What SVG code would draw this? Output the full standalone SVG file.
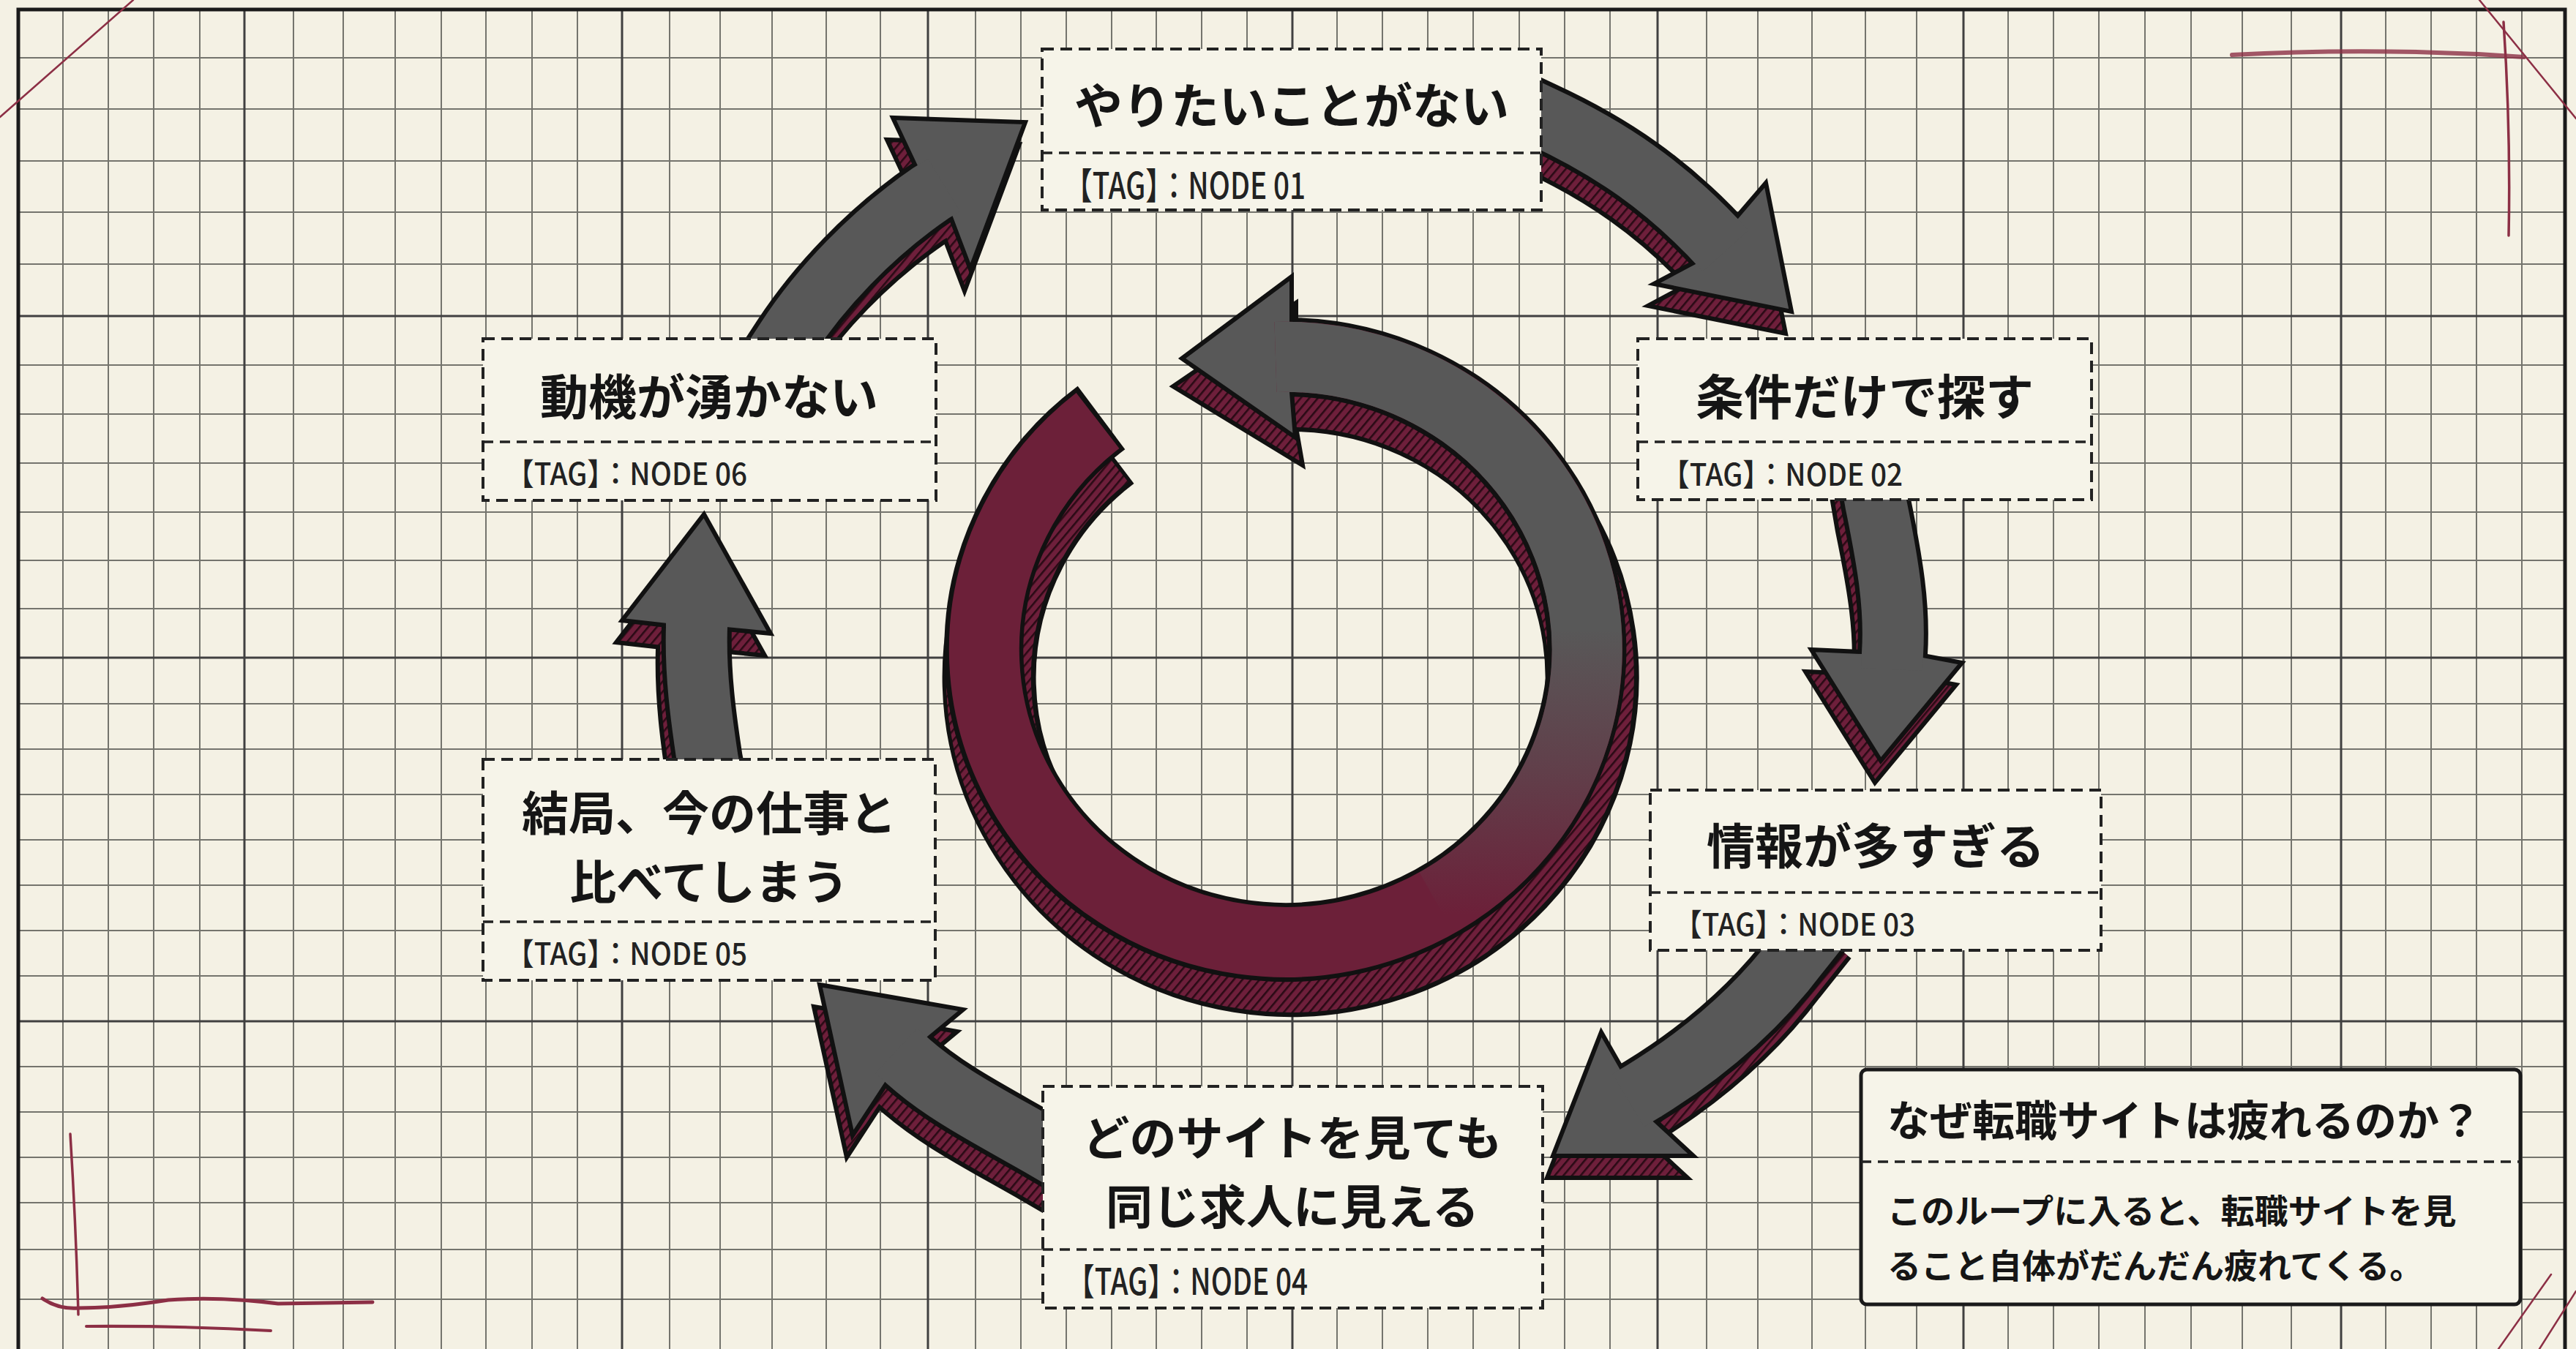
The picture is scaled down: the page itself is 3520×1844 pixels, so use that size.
<svg xmlns="http://www.w3.org/2000/svg" width="3520" height="1844" viewBox="0 0 3520 1844">
<defs>
<pattern id="hatch" patternUnits="userSpaceOnUse" width="9" height="9" patternTransform="rotate(40)">
<rect width="9" height="9" fill="#6e1f3b"/>
<rect width="2.6" height="9" fill="#2a0a15"/>
</pattern>
<linearGradient id="greyFade" gradientUnits="userSpaceOnUse" x1="0" y1="860" x2="0" y2="1250">
<stop offset="0" stop-color="#585858" stop-opacity="1"/>
<stop offset="0.5" stop-color="#585858" stop-opacity="0.55"/>
<stop offset="1" stop-color="#585858" stop-opacity="0"/>
</linearGradient>
<style>
.paper{fill:#f4f1e4}
.gmin{fill:none;stroke:#74746d;stroke-width:2}
.gmaj{fill:none;stroke:#404040;stroke-width:3}
.frame{fill:none;stroke:#1a1a1a;stroke-width:5}
.box{fill:#f6f4e9;stroke:#222;stroke-width:4;stroke-dasharray:16 9}
.div{stroke:#222;stroke-width:3.5;stroke-dasharray:14 9}
.title{font-family:"Noto Sans CJK JP","Noto Sans",sans-serif;font-weight:700;font-size:66px;fill:#151515;text-anchor:middle;dominant-baseline:central}
.title2{font-size:64px}
.tag{font-family:"Noto Sans CJK JP","Noto Sans",sans-serif;font-weight:500;fill:#222;dominant-baseline:central}
.tagN{font-size:50px}
.tagW{font-size:42px}
.ibox{fill:#f6f4e9;stroke:#1a1a1a;stroke-width:5}
.ititle{font-family:"Noto Sans CJK JP","Noto Sans",sans-serif;font-weight:700;font-size:58px;fill:#151515;dominant-baseline:central}
.ibody{font-family:"Noto Sans CJK JP","Noto Sans",sans-serif;font-weight:700;font-size:46px;fill:#151515;dominant-baseline:central}
.so{fill:none;stroke:#111;stroke-width:96}
.si{fill:none;stroke:url(#hatch);stroke-width:84}
.sh{fill:url(#hatch);stroke:#111;stroke-width:6;stroke-linejoin:miter}
.mo{fill:none;stroke:#111;stroke-width:96}
.mi{fill:none;stroke:#585858;stroke-width:84}
.mh{fill:#585858;stroke:#111;stroke-width:6;stroke-linejoin:miter}
.red{fill:none;stroke:#8c2f45;stroke-linecap:round}
</style>
</defs>

<g id="background">
<rect class="paper" x="0" y="0" width="3520" height="1844"/>
<path class="gmin" d="M86 13V1844M148 13V1844M210 13V1844M273 13V1844M401 13V1844M469 13V1844M540 13V1844M603 13V1844M664 13V1844M727 13V1844M789 13V1844M915 13V1844M984 13V1844M1055 13V1844M1129 13V1844M1203 13V1844M1333 13V1844M1395 13V1844M1457 13V1844M1519 13V1844M1580 13V1844M1642 13V1844M1704 13V1844M1827 13V1844M1889 13V1844M1951 13V1844M2013 13V1844M2076 13V1844M2138 13V1844M2200 13V1844M2332 13V1844M2402 13V1844M2476 13V1844M2549 13V1844M2619 13V1844M2744 13V1844M2806 13V1844M2868 13V1844M2931 13V1844M2994 13V1844M3064 13V1844M3131 13V1844M3260 13V1844M3322 13V1844M3384 13V1844M3446 13V1844"/>
<path class="gmin" d="M25 79H3505M25 149H3505M25 220H3505M25 290H3505M25 361H3505M25 499H3505M25 566H3505M25 633H3505M25 700H3505M25 766H3505M25 832H3505M25 962H3505M25 1024H3505M25 1086H3505M25 1148H3505M25 1210H3505M25 1272H3505M25 1334H3505M25 1458H3505M25 1520H3505M25 1582H3505M25 1644H3505M25 1708H3505M25 1776H3505"/>
<path class="gmaj" d="M334 13V1844M850 13V1844M1268 13V1844M1766 13V1844M2265 13V1844M2683 13V1844M3199 13V1844M25 432H3505M25 899H3505M25 1396H3505"/>
<path class="frame" d="M25 1844V13H3505V1844"/>
</g>

<g id="marks">
<path class="red" d="M0 160 L182 0" stroke-width="2.5"/>
<path class="red" d="M3388 0 L3520 162" stroke-width="2.5"/>
<path class="red" d="M3050 75 Q3250 64 3449 78" stroke-width="6" opacity="0.8"/>
<path class="red" d="M3421 30 Q3431 180 3428 322" stroke-width="3.5"/>
<path class="red" d="M96 1550 Q104 1680 107 1797" stroke-width="3.5"/>
<path class="red" d="M58 1775 Q80 1790 107 1788 Q160 1788 230 1777 Q300 1772 380 1782 L509 1780" stroke-width="5"/>
<path class="red" d="M118 1813 Q250 1812 370 1819" stroke-width="4"/>
<path class="red" d="M3486 1742 L3414 1844" stroke-width="2.5"/>
<path class="red" d="M3520 1765 L3470 1844" stroke-width="2.5"/>
</g>

<g id="cycle-center">
<g id="ring-shadow">
<path d="M1511 610 A412 400 0 1 0 1763 526" fill="none" stroke="#111" stroke-width="128"/>
<polygon points="1771,468 1771,414 1603,528 1780,636 1771,584" class="sh"/>
<path d="M1506 613 A412 400 0 1 0 1749 526" fill="none" stroke="url(#hatch)" stroke-width="116"/>
</g>
<g id="ring-main">
<path d="M1505 571 A412 400 0 1 0 1757 488" fill="none" stroke="#111" stroke-width="108"/>
<polygon points="1765,440 1765,378 1615,490 1770,598 1765,536" class="mh"/>
<path d="M1500 575 A412 400 0 1 0 1743 488" fill="none" stroke="#6c2039" stroke-width="96"/>
<path d="M1963 1234 A412 400 0 0 0 1743 488" fill="none" stroke="url(#greyFade)" stroke-width="96"/>
</g>
</g>

<g id="connectors">
<g id="edge-01-02">
<g transform="translate(-8,30)">
<path class="so" d="M2040 128 L2106 159 C2197 201 2278 254 2358 343"/>
<polygon class="sh" points="2318,357 2260,388 2448,426 2413,250 2371,299"/>
<path class="si" d="M2040 128 L2106 159 C2197 201 2278 254 2358 343"/>
</g>
<path class="mo" d="M2040 128 L2106 159 C2197 201 2278 254 2358 343"/>
<polygon class="mh" points="2318,357 2260,388 2448,426 2413,250 2371,299"/>
<path class="mi" d="M2040 128 L2106 159 C2197 201 2278 254 2358 343"/>
</g>
<g id="edge-02-03">
<g transform="translate(-8,30)">
<path class="so" d="M2555 640 L2563 687 C2580 770 2590 830 2586 893 L2585 915"/>
<polygon class="sh" points="2544,891 2475,888 2570,1040 2681,906 2628,896"/>
<path class="si" d="M2555 640 L2563 687 C2580 770 2590 830 2586 893 L2585 915"/>
</g>
<path class="mo" d="M2555 640 L2563 687 C2580 770 2590 830 2586 893 L2585 915"/>
<polygon class="mh" points="2544,891 2475,888 2570,1040 2681,906 2628,896"/>
<path class="mi" d="M2555 640 L2563 687 C2580 770 2590 830 2586 893 L2585 915"/>
</g>
<g id="edge-03-04">
<g transform="translate(-8,30)">
<path class="so" d="M2500 1250 L2457 1304 C2400 1380 2330 1440 2245 1492 L2225 1504"/>
<polygon class="sh" points="2216,1460 2188,1411 2122,1580 2314,1580 2260,1530"/>
<path class="si" d="M2500 1250 L2457 1304 C2400 1380 2330 1440 2245 1492 L2225 1504"/>
</g>
<path class="mo" d="M2500 1250 L2457 1304 C2400 1380 2330 1440 2245 1492 L2225 1504"/>
<polygon class="mh" points="2216,1460 2188,1411 2122,1580 2314,1580 2260,1530"/>
<path class="mi" d="M2500 1250 L2457 1304 C2400 1380 2330 1440 2245 1492 L2225 1504"/>
</g>
<g id="edge-04-05">
<g transform="translate(-8,30)">
<path class="so" d="M1480 1600 L1425 1568 C1350 1525 1290 1495 1240 1450 L1225 1436"/>
<polygon class="sh" points="1268,1420 1316,1380 1120,1346 1165,1552 1212,1480"/>
<path class="si" d="M1480 1600 L1425 1568 C1350 1525 1290 1495 1240 1450 L1225 1436"/>
</g>
<path class="mo" d="M1480 1600 L1425 1568 C1350 1525 1290 1495 1240 1450 L1225 1436"/>
<polygon class="mh" points="1268,1420 1316,1380 1120,1346 1165,1552 1212,1480"/>
<path class="mi" d="M1480 1600 L1425 1568 C1350 1525 1290 1495 1240 1450 L1225 1436"/>
</g>
<g id="edge-05-06">
<g transform="translate(-8,30)">
<path class="so" d="M975 1080 L967 1039 C958 980 950 920 952 857 L952 838"/>
<polygon class="sh" points="912,855 850,848 962,703 1053,866 992,860"/>
<path class="si" d="M975 1080 L967 1039 C958 980 950 920 952 857 L952 838"/>
</g>
<path class="mo" d="M975 1080 L967 1039 C958 980 950 920 952 857 L952 838"/>
<polygon class="mh" points="912,855 850,848 962,703 1053,866 992,860"/>
<path class="mi" d="M975 1080 L967 1039 C958 980 950 920 952 857 L952 838"/>
</g>
<g id="edge-06-01">
<g transform="translate(-8,30)">
<path class="so" d="M1045 510 L1075 464 C1120 395 1190 320 1272 264 L1290 253"/>
<polygon class="sh" points="1251,227 1220,161 1401,167 1326,368 1299,297"/>
<path class="si" d="M1045 510 L1075 464 C1120 395 1190 320 1272 264 L1290 253"/>
</g>
<path class="mo" d="M1045 510 L1075 464 C1120 395 1190 320 1272 264 L1290 253"/>
<polygon class="mh" points="1251,227 1220,161 1401,167 1326,368 1299,297"/>
<path class="mi" d="M1045 510 L1075 464 C1120 395 1190 320 1272 264 L1290 253"/>
</g>
</g>

<g id="node-01">
<rect class="box" x="1424" y="67" width="682" height="220"/>
<line class="div" x1="1424" y1="209" x2="2106" y2="209"/>
<text class="title" x="1765" y="140">やりたいことがない</text>
<text class="tag tagN" x="1454" y="250" textLength="330" lengthAdjust="spacingAndGlyphs">【TAG】：NODE 01</text>
</g>
<g id="node-02">
<rect class="box" x="2238" y="463" width="620" height="220"/>
<line class="div" x1="2238" y1="604" x2="2858" y2="604"/>
<text class="title" x="2548" y="538">条件だけで探す</text>
<text class="tag tagW" x="2270" y="645" textLength="330" lengthAdjust="spacingAndGlyphs">【TAG】：NODE 02</text>
</g>
<g id="node-03">
<rect class="box" x="2255" y="1080" width="616" height="219"/>
<line class="div" x1="2255" y1="1220" x2="2871" y2="1220"/>
<text class="title" x="2563" y="1152">情報が多すぎる</text>
<text class="tag tagW" x="2287" y="1260" textLength="330" lengthAdjust="spacingAndGlyphs">【TAG】：NODE 03</text>
</g>
<g id="node-04">
<rect class="box" x="1425" y="1485" width="683" height="303"/>
<line class="div" x1="1425" y1="1708" x2="2108" y2="1708"/>
<text class="title title2" x="1766" y="1551">どのサイトを見ても</text>
<text class="title title2" x="1766" y="1645">同じ求人に見える</text>
<text class="tag tagN" x="1457" y="1748" textLength="330" lengthAdjust="spacingAndGlyphs">【TAG】：NODE 04</text>
</g>
<g id="node-05">
<rect class="box" x="660" y="1038" width="618" height="302"/>
<line class="div" x1="660" y1="1260" x2="1278" y2="1260"/>
<text class="title title2" x="969" y="1107">結局、今の仕事と</text>
<text class="title title2" x="969" y="1201">比べてしまう</text>
<text class="tag tagW" x="691" y="1300" textLength="330" lengthAdjust="spacingAndGlyphs">【TAG】：NODE 05</text>
</g>
<g id="node-06">
<rect class="box" x="660" y="463" width="619" height="221"/>
<line class="div" x1="660" y1="604" x2="1279" y2="604"/>
<text class="title" x="969" y="538">動機が湧かない</text>
<text class="tag tagW" x="691" y="644" textLength="330" lengthAdjust="spacingAndGlyphs">【TAG】：NODE 06</text>
</g>

<g id="info">
<rect class="ibox" x="2543" y="1462" width="901" height="321" rx="8"/>
<line class="div" x1="2543" y1="1588" x2="3444" y2="1588"/>
<text class="ititle" x="2579" y="1528">なぜ転職サイトは疲れるのか？</text>
<text class="ibody" x="2579" y="1652">このループに入ると、転職サイトを見</text>
<text class="ibody" x="2579" y="1727">ること自体がだんだん疲れてくる。</text>
</g>
</svg>
